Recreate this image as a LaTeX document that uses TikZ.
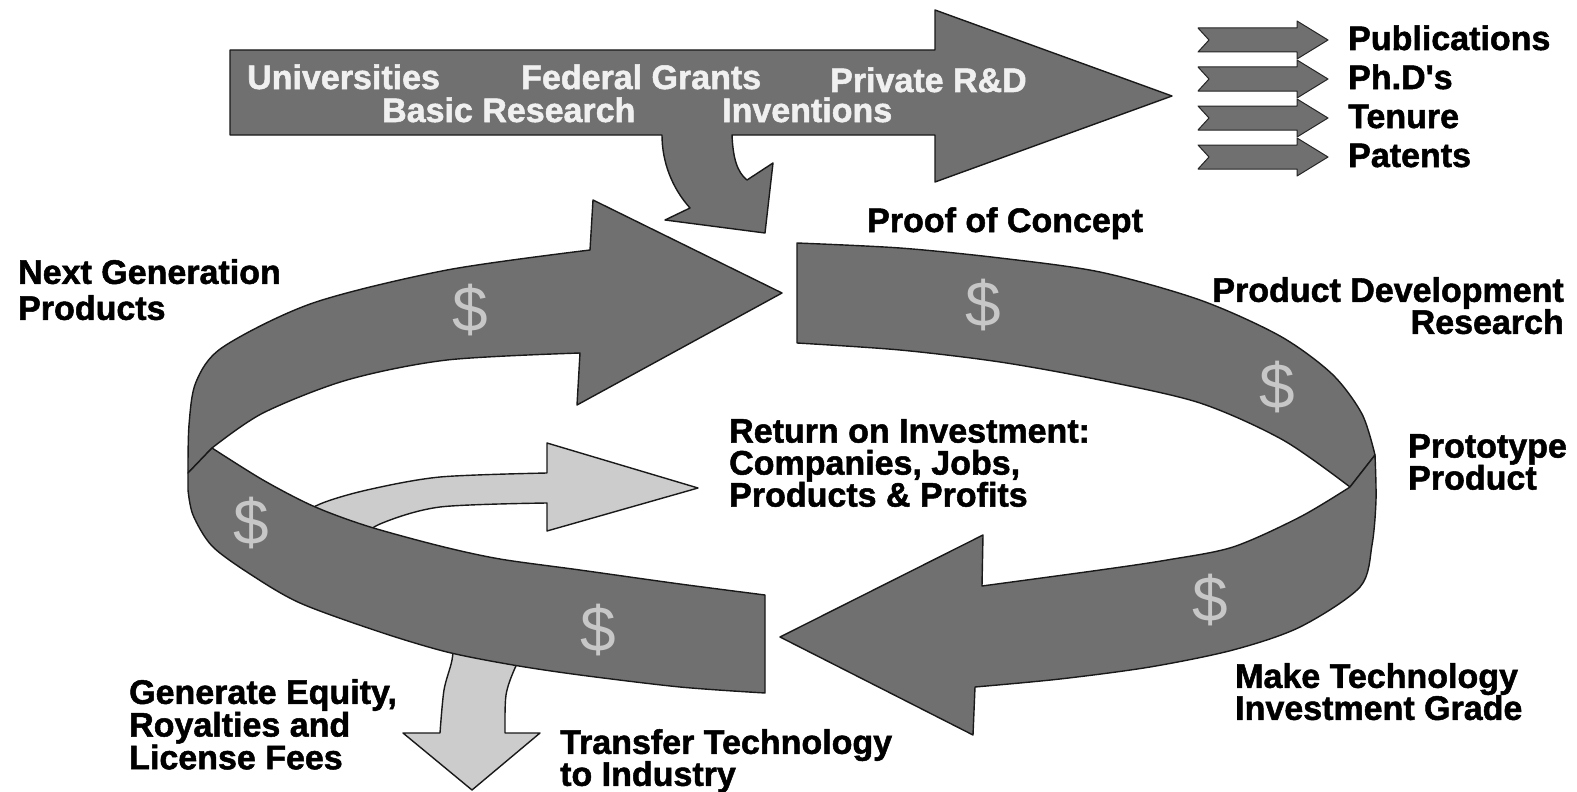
\documentclass[tikz,border=0pt]{standalone}
\usepackage{fontspec}
\setmainfont{Liberation Sans}[BoldFeatures={FakeBold=1.5}]
\begin{document}
\begin{tikzpicture}[x=1pt,y=-1pt,
  band/.style={fill=black!56, draw=black!90, line width=1.4pt, line join=round},
  lightband/.style={fill=black!20, draw=black!90, line width=1.4pt, line join=round},
  dollar/.style={text=black!22, font=\fontsize{64}{64}\selectfont, inner sep=0pt},
  lbl/.style={font=\fontsize{34}{32}\selectfont\bfseries, inner sep=0pt, text=black},
  wlbl/.style={lbl, text=white!94!black},
  smallarrow/.style={fill=black!56, draw=black!85, line width=1pt, line join=round}]
\useasboundingbox[fill=white] (0,0) rectangle (1577,792);

% ---------- top arrow with branch ----------
\path[band] (230,50) -- (935,50) -- (935,10) -- (1172,96) -- (935,182) -- (935,135)
  -- (732,135) .. controls (733,158) and (737,172) .. (747,180)
  -- (773,163) -- (765,233) -- (665,220) -- (690,208)
  .. controls (672,188) and (662,162) .. (662,135)
  -- (230,135) -- cycle;
\node[wlbl, anchor=base west] (univ) at (247,89) {Universities};
\node[wlbl, anchor=base west] (fed) at (521,89) {Federal Grants};
\node[wlbl, anchor=base west] (priv) at (830,92) {Private R\&D};
\node[wlbl, anchor=base west] (basic) at (382,122) {Basic Research};
\node[wlbl, anchor=base west] (inv) at (722,122) {Inventions};

% ---------- small output arrows ----------
\foreach \cy/\txt/\nm in {40/Publications/pub, 79/Ph.D\textquotesingle s/phd, 118/Tenure/ten, 157/Patents/pat}{
  \path[smallarrow] (1198,\cy-12) -- (1297,\cy-12) -- (1297,\cy-19) -- (1328,\cy)
    -- (1297,\cy+19) -- (1297,\cy+12) -- (1198,\cy+12) -- (1209,\cy) -- cycle;
  \node[lbl, anchor=base west] (\nm) at (1348,\cy+10) {\txt};
}

% ---------- light arrow: return on investment (tail behind band) ----------
\path[lightband] plot[smooth] coordinates {(290,522) (320,504) (367,490) (440,477) (547,473)}
  -- (547,443) -- (698,488) -- (547,531) -- (547,503)
  -- plot[smooth] coordinates {(547,503) (440,507) (380,524) (350,545)} -- cycle;

% ---------- light arrow: transfer technology (tail behind band) ----------
\path[lightband] (455,630) -- plot[smooth] coordinates {(455,630) (452,660) (444,690) (440,733)}
  -- (403,733) -- (472,790) -- (540,733) -- (505,733)
  -- plot[smooth] coordinates {(505,733) (506,695) (515,668) (530,640)} -- cycle;

% ---------- upper-left band (next generation arrow) ----------
\path[band] plot[smooth] coordinates {(590,250) (447,270) (313,303) (223,347) (196,382) (189,425) (188,473)}
  -- (212,448)
  -- plot[smooth] coordinates {(212,448) (263,413) (347,380) (447,360) (580,353)}
  -- (577,405) -- (782,293) -- (593,200) -- cycle;

% ---------- lower-left band ----------
\path[band] plot[smooth] coordinates {(212,448) (263,480) (313,506) (367,526) (440,546) (500,559) (580,570) (680,584) (765,595)}
  -- (765,693)
  -- plot[smooth] coordinates {(765,693) (680,687) (580,675) (513,665) (447,652) (380,632) (300,603) (250,574) (212,546) (193,515) (188,490)}
  -- (188,473) -- cycle;

% ---------- upper-right band ----------
\path[band] plot[smooth] coordinates {(797,243) (900,248) (1000,258) (1100,272) (1200,300) (1280,336) (1332,374) (1362,414) (1375,455)}
  -- (1350,487)
  -- plot[smooth] coordinates {(1350,487) (1283,440) (1200,403) (1100,380) (1000,362) (900,350) (797,343)}
  -- cycle;

% ---------- lower-right band (make technology arrow) ----------
\path[band] (1350,487) -- (1375,455)
  -- plot[smooth] coordinates {(1375,455) (1376,500) (1372,545) (1360,587) (1300,627) (1233,650) (1150,667) (1060,679) (975,687)}
  -- (973,735) -- (780,637) -- (983,535) -- (982,586)
  -- plot[smooth] coordinates {(982,586) (1100,570) (1167,560) (1233,547) (1300,517) (1350,487)}
  -- cycle;

% ---------- dollar signs ----------
\node[dollar] (d1) at (470,310) {\$};
\node[dollar] (d2) at (983,305) {\$};
\node[dollar] (d3) at (1277,387) {\$};
\node[dollar] (d4) at (251,523) {\$};
\node[dollar] (d5) at (598,630) {\$};
\node[dollar] (d6) at (1210,600) {\$};

% ---------- labels ----------
\node[lbl, anchor=base west] (poc) at (867,232) {Proof of Concept};
\node[lbl, anchor=north west, align=left, font=\fontsize{34}{36}\selectfont\bfseries] (nextgen) at (18,259) {Next Generation\\Products};
\node[lbl, anchor=north east, align=right] (pdr) at (1564,277) {Product Development\\Research};
\node[lbl, anchor=north west, align=left] (roi) at (729,419) {Return on Investment:\\Companies, Jobs,\\Products \& Profits};
\node[lbl, anchor=north west, align=left] (proto) at (1408,434) {Prototype\\Product};
\node[lbl, anchor=north west, align=left] (mtig) at (1235,663) {Make Technology\\Investment Grade};
\node[lbl, anchor=north west, align=left, font=\fontsize{34}{31}\selectfont\bfseries] (equity) at (129,679) {Generate Equity,\\Royalties and\\License Fees};
\node[lbl, anchor=north west, align=left] (transfer) at (560,729) {Transfer Technology\\to Industry};
\end{tikzpicture}
\end{document}
